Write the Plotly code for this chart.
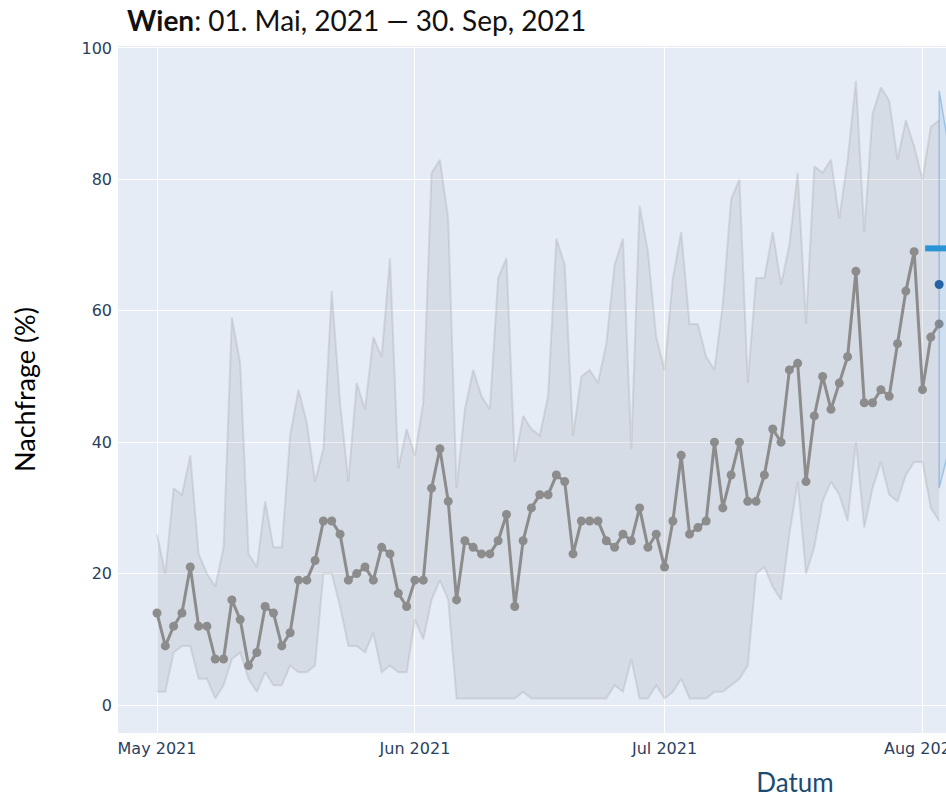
import pandas as pd
import plotly.graph_objects as go

# ---------------- data ----------------
start_date = "2021-05-01"
nachfrage = [14, 9, 12, 14, 21, 12, 12, 7, 7, 16, 13, 6, 8, 15, 14, 9, 11, 19, 19, 22,
             28, 28, 26, 19, 20, 21, 19, 24, 23, 17, 15,
             19, 19, 33, 39, 31, 16, 25, 24, 23, 23, 25, 29, 15, 25, 30, 32, 32, 35, 34, 23,
             28, 28, 28, 25, 24, 26, 25, 30, 24, 26,
             21, 28, 38, 26, 27, 28, 40, 30, 35, 40, 31, 31, 35, 42, 40, 51, 52, 34, 44, 50,
             45, 49, 53, 66, 46, 46, 48, 47, 55, 63, 69,
             48, 56, 58]
band_upper = [26, 20, 33, 32, 38, 23, 20, 18, 24, 59, 52, 23, 21, 31, 24, 24, 41, 48, 43, 34,
              39, 63, 46, 34, 49, 45, 56, 53, 68, 36, 42,
              38, 46, 81, 83, 74, 33, 45, 51, 47, 45, 65, 68, 37, 44, 42, 41, 47, 71, 67, 41,
              50, 51, 49, 55, 67, 71, 39, 76, 69, 56,
              51, 65, 72, 58, 58, 53, 51, 61, 77, 80, 49, 65, 65, 72, 64, 70, 81, 58, 82, 81,
              83, 74, 83, 95, 72, 90, 94, 92, 83, 89, 85,
              80, 88, 89]
band_lower = [2, 2, 8, 9, 9, 4, 4, 1, 3, 7, 8, 4, 2, 5, 3, 3, 6, 5, 5, 6,
              20, 20, 15, 9, 9, 8, 11, 5, 6, 5, 5,
              13, 10, 16, 19, 16, 1, 1, 1, 1, 1, 1, 1, 1, 2, 1, 1, 1, 1, 1, 1,
              1, 1, 1, 1, 3, 2, 7, 1, 1, 3,
              1, 2, 4, 1, 1, 1, 2, 2, 3, 4, 6, 20, 21, 18, 16, 26, 34, 20, 24, 31,
              34, 32, 28, 40, 27, 33, 37, 32, 31, 35, 37,
              37, 30, 28]

prog_dates = ["2021-08-03", "2021-08-04"]
prog_upper = [93.5, 86]
prog_lower = [33, 38]
prog_value_date = ["2021-08-03"]
prog_value = [64]
ziel_date = ["2021-08-03"]
ziel_value = [69.5]

y_ticks = [0, 20, 40, 60, 80, 100]
x_range = ["2021-04-26 07:30", "2021-10-06 01:00"]
y_range = [-4.26, 100.3]

dates = pd.date_range(start_date, periods=len(nachfrage), freq="D")

# ---------------- figure ----------------
fig = go.Figure()
band_line = dict(color="rgba(140,140,140,0.22)", width=2)
fig.add_trace(go.Scatter(x=dates, y=band_lower, mode="lines", line=band_line,
                         hoverinfo="skip", showlegend=False))
fig.add_trace(go.Scatter(x=dates, y=band_upper, mode="lines", line=band_line,
                         fill="tonexty", fillcolor="rgba(128,128,128,0.14)",
                         hoverinfo="skip", showlegend=False))
fig.add_trace(go.Scatter(x=dates, y=nachfrage, mode="lines+markers",
                         line=dict(color="#8c8c8c", width=3),
                         marker=dict(color="#8c8c8c", size=9),
                         showlegend=False))

# forecast band drawn as a closed polygon (vertical edge at its start)
poly_x = prog_dates + prog_dates[::-1] + prog_dates[:1]
poly_y = prog_upper + prog_lower[::-1] + prog_upper[:1]
fig.add_trace(go.Scatter(x=poly_x, y=poly_y,
                         mode="lines", fill="toself",
                         line=dict(color="rgba(52,130,200,0.35)", width=1.5),
                         fillcolor="rgba(52,130,200,0.12)",
                         hoverinfo="skip", showlegend=False))
fig.add_trace(go.Scatter(x=ziel_date, y=ziel_value, mode="markers",
                         marker=dict(symbol="line-ew-open", size=20, color="#2a95d6",
                                     line=dict(color="#2a95d6", width=6)),
                         showlegend=False))
fig.add_trace(go.Scatter(x=prog_value_date, y=prog_value, mode="markers",
                         marker=dict(color="#2563a6", size=9),
                         showlegend=False))

W, H = 1530, 798
fig.update_layout(
    width=W, height=H,
    margin=dict(l=118, r=58, t=46, b=65, autoexpand=False),
    paper_bgcolor="white",
    plot_bgcolor="#E5ECF6",
    title=dict(text="<b>Wien</b>: 01. Mai, 2021 — 30. Sep, 2021",
               font=dict(family="Lato", size=28, color="#111111"),
               x=127 / W, xref="container", xanchor="left",
               y=1 - 21 / H, yref="container", yanchor="middle"),
    xaxis=dict(range=x_range, type="date", dtick="M1", tick0="2021-05-01",
               tickformat="%b %Y", showgrid=True, gridcolor="white", gridwidth=1,
               zeroline=False, showline=False, ticklabelstandoff=4,
               tickfont=dict(family="DejaVu Sans", size=16, color="#2a3f5f"),
               title=dict(text="Datum", font=dict(family="Lato", size=26, color="#1b4b70"),
                          standoff=26),
               automargin=False),
    yaxis=dict(range=y_range, tickvals=y_ticks, showgrid=True, gridcolor="white",
               gridwidth=1, zeroline=False, showline=False, ticklabelstandoff=5,
               tickfont=dict(family="DejaVu Sans", size=16, color="#2a3f5f"),
               title=dict(text="Nachfrage (%)", font=dict(family="Lato", size=27, color="black"),
                          standoff=38),
               automargin=False),
    showlegend=False,
)

fig.write_html(
    "out.html",
    post_script="document.body.style.margin='0';document.body.style.overflow='hidden';",
)
